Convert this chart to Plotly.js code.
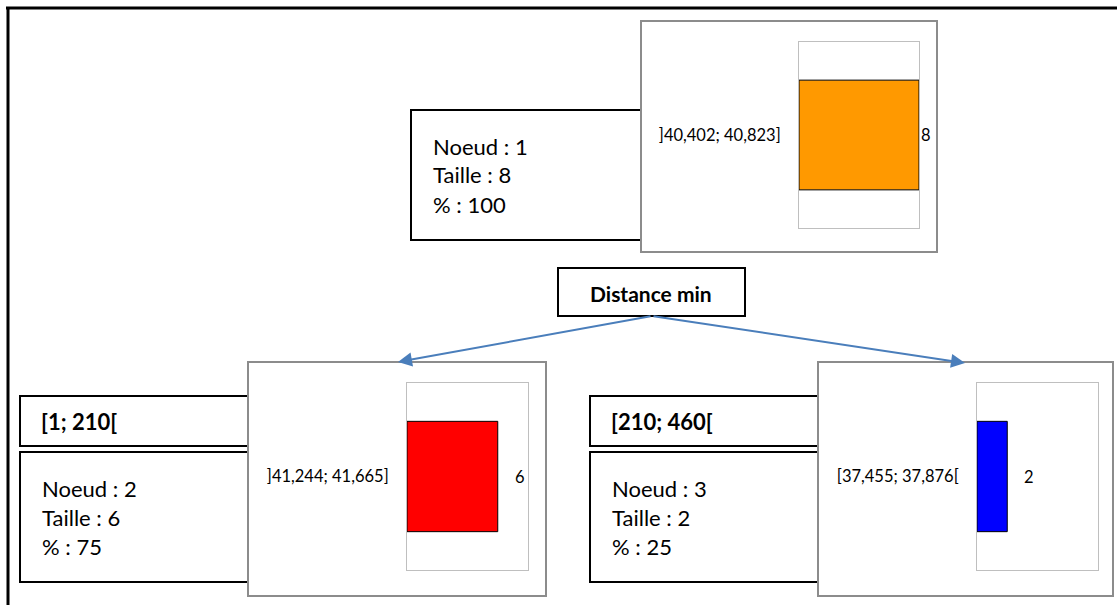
<!DOCTYPE html>
<html>
<head>
<meta charset="utf-8">
<script src="https://cdn.plot.ly/plotly-3.0.1.min.js"></script>
<style>html,body{margin:0;padding:0;background:#fff;}</style>
</head>
<body>
<div id="chart" style="width:1117px;height:605px;"></div>
<script>
// ---- data ----
const nodeIds = [1, 2, 3];
const nodeSizes = [8, 6, 2];
const nodePercents = [100, 75, 25];
const nodeIntervals = ["]40,402; 40,823]", "]41,244; 41,665]", "[37,455; 37,876["];
const nodeColors = ["#FF9900", "#FF0000", "#0000FF"];
const splitVariable = "Distance min";
const splitRanges = ["[1; 210[", "[210; 460["];

// ---- layout helpers (pixel -> paper) ----
const W = 1117, H = 605;
const px = x => x / W;
const py = y => 1 - y / H;
const FONT = "Lato, 'Open Sans', sans-serif";

// node geometry (pixels)
const geo = [
  {info:[411,110,645,240], header:null, card:[641,21,937,252], plot:[799,42,919,228]},
  {info:[20,452,252,582], header:[20,396,252,446], card:[248,362,546,596], plot:[407,383,528,570]},
  {info:[590,452,822,582], header:[590,396,822,446], card:[818,362,1113,596], plot:[977,383,1098,570]}
];

const maxSize = Math.max(...nodeSizes);
const traces = [];
const layout = {
  width: W, height: H,
  margin: {l:0, r:0, t:0, b:0},
  paper_bgcolor: "#ffffff",
  plot_bgcolor: "rgba(0,0,0,0)",
  showlegend: false,
  shapes: [],
  annotations: [],
  font: {family: FONT, color: "#000"}
};

// outer frame
layout.shapes.push({type:"line", xref:"paper", yref:"paper", x0:px(6), x1:px(1117), y0:py(8), y1:py(8), line:{color:"#000", width:3}, layer:"below"});
layout.shapes.push({type:"line", xref:"paper", yref:"paper", x0:px(8), x1:px(8), y0:py(7), y1:py(605), line:{color:"#000", width:3}, layer:"below"});

// split variable box
layout.shapes.push({type:"rect", xref:"paper", yref:"paper", x0:px(558), x1:px(745), y0:py(268), y1:py(316), line:{color:"#000", width:2}, fillcolor:"#fff", layer:"below"});
layout.annotations.push({xref:"paper", yref:"paper", x:px(651), y:py(293), text:"<b>"+splitVariable+"</b>", showarrow:false, xanchor:"center", yanchor:"middle", font:{size:21, family:FONT}});

nodeIds.forEach((id, i) => {
  const g = geo[i];
  const sfx = i === 0 ? "" : String(i + 1);
  // info box
  layout.shapes.push({type:"rect", xref:"paper", yref:"paper", x0:px(g.info[0]), x1:px(g.info[2]), y0:py(g.info[1]), y1:py(g.info[3]), line:{color:"#000", width:2}, fillcolor:"#fff", layer:"below"});
  if (g.header) {
    layout.shapes.push({type:"rect", xref:"paper", yref:"paper", x0:px(g.header[0]), x1:px(g.header[2]), y0:py(g.header[1]), y1:py(g.header[3]), line:{color:"#000", width:2}, fillcolor:"#fff", layer:"below"});
    layout.annotations.push({xref:"paper", yref:"paper", x:px(g.header[0]+19), y:py((g.header[1]+g.header[3])/2), text:"<b>"+splitRanges[i-1]+"</b>", showarrow:false, xanchor:"left", yanchor:"middle", font:{size:22, family:FONT}});
  }
  // info text
  const tx = g.info[0] + 20;
  const cy = (g.info[1] + g.info[3]) / 2;
  const lines = ["Noeud : " + id, "Taille : " + nodeSizes[i], "% : " + nodePercents[i]];
  lines.forEach((t, k) => {
    layout.annotations.push({xref:"paper", yref:"paper", x:px(tx), y:py(cy + (k-1)*29), text:t, showarrow:false, xanchor:"left", yanchor:"middle", font:{size:22, family:FONT}});
  });
  // chart card
  layout.shapes.push({type:"rect", xref:"paper", yref:"paper", x0:px(g.card[0]), x1:px(g.card[2]), y0:py(g.card[1]), y1:py(g.card[3]), line:{color:"#8c8c8c", width:2}, fillcolor:"#fff", layer:"below"});

  // axes
  layout["xaxis"+sfx] = {
    domain:[px(g.plot[0]), px(g.plot[2])], anchor:"y"+sfx, range:[0, maxSize],
    showgrid:false, zeroline:false, showticklabels:false, ticks:"",
    showline:true, mirror:true, linecolor:"#bfbfbf", linewidth:1, fixedrange:true
  };
  layout["yaxis"+sfx] = {
    domain:[py(g.plot[3]), py(g.plot[1])], anchor:"x"+sfx, range:[-0.5, 0.5],
    showgrid:false, zeroline:false, ticks:"", ticklabelstandoff:14,
    showline:true, mirror:true, linecolor:"#bfbfbf", linewidth:1, fixedrange:true,
    tickfont:{size:16.5, family:FONT, color:"#000"}
  };
  traces.push({
    type:"bar", orientation:"h",
    x:[nodeSizes[i]], y:[nodeIntervals[i]],
    xaxis:"x"+sfx, yaxis:"y"+sfx,
    width:0.59,
    marker:{color:nodeColors[i], line:{color:"#000", width:1}},
    hoverinfo:"skip"
  });
  layout.annotations.push({
    xref:"x"+sfx, yref:"y"+sfx, x:nodeSizes[i], y:nodeIntervals[i],
    text:String(nodeSizes[i]), showarrow:false, xanchor:"left", yanchor:"middle",
    xshift: nodeSizes[i] === maxSize ? 0 : 15,
    font:{size:16.5, family:FONT, color:"#000"}
  });
});

// arrows from split box to children cards
const arrowColor = "#4A7EBB";
layout.annotations.push({xref:"paper", yref:"paper", x:px(398), y:py(362), ax:652-398, ay:316-362, axref:"pixel", ayref:"pixel", text:"", showarrow:true, arrowhead:2, arrowsize:1.4, arrowwidth:2, arrowcolor:arrowColor});
layout.annotations.push({xref:"paper", yref:"paper", x:px(965), y:py(363), ax:652-965, ay:316-363, axref:"pixel", ayref:"pixel", text:"", showarrow:true, arrowhead:2, arrowsize:1.4, arrowwidth:2, arrowcolor:arrowColor});

Plotly.newPlot("chart", traces, layout, {displayModeBar:false, staticPlot:true});
</script>
</body>
</html>
